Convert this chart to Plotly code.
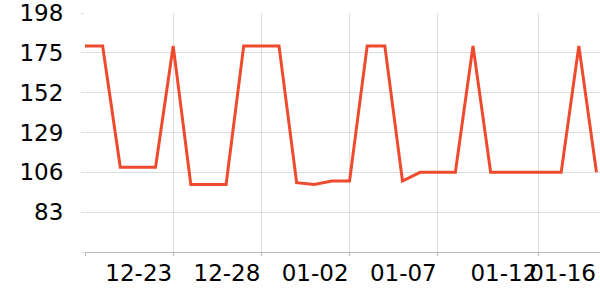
import plotly.graph_objects as go
import pandas as pd

dates = pd.date_range("2023-12-18", periods=30, freq="D").strftime("%Y-%m-%d").tolist()
values = [179, 179, 109, 109, 109, 179, 99, 99, 99, 179,
          179, 179, 100, 99, 101, 101, 179, 179, 101, 106,
          106, 106, 179, 106, 106, 106, 106, 106, 179, 106]

y_ticks = [60, 83, 106, 129, 152, 175, 198]
y_labels = ["", "83", "106", "129", "152", "175", "198"]

x_ticks = ["2023-12-18", "2023-12-23", "2023-12-28", "2024-01-02", "2024-01-07", "2024-01-12 16:48"]
x_labels = ["", "12-23", "12-28", "01-02", "01-07", "01-12"]
x_end_tick = ["2024-01-16"]
x_end_label = ["01-16"]

x_range = ["2023-12-18", "2024-01-16 04:48"]

font = dict(family="DejaVu Sans", size=23, color="#000000")

fig = go.Figure()
fig.add_trace(go.Scatter(x=dates, y=values, mode="lines",
                         line=dict(color="#EE4B2E", width=3), showlegend=False,
                         hoverinfo="skip"))
fig.add_trace(go.Scatter(x=[dates[0]], y=[values[0]], xaxis="x2", mode="lines",
                         line=dict(width=0), showlegend=False, hoverinfo="skip", opacity=0))

fig.update_layout(
    width=600, height=300,
    margin=dict(l=85, r=0, t=10, b=48),
    paper_bgcolor="white", plot_bgcolor="white",
    font=font,
    xaxis=dict(type="date", range=x_range, tickvals=x_ticks, ticktext=x_labels,
               showgrid=True, gridcolor="#dddddd", gridwidth=1,
               showline=True, linecolor="#bbbbbb", linewidth=1,
               ticks="outside", ticklen=3, tickcolor="#bbbbbb",
               ticklabelposition="outside left", ticklabeloverflow="allow",
               tickfont=font, zeroline=False),
    xaxis2=dict(type="date", overlaying="x", matches="x", side="bottom",
                tickvals=x_end_tick, ticktext=x_end_label, showgrid=False,
                showline=False, ticks="outside", ticklen=3, tickcolor="rgba(0,0,0,0)",
                ticklabelposition="outside left", ticklabeloverflow="allow",
                tickfont=font, zeroline=False),
    yaxis=dict(range=[60, 198], tickvals=y_ticks, ticktext=y_labels,
               showgrid=True, gridcolor="#dddddd", gridwidth=1,
               showline=False, zeroline=False,
               ticks="outside", ticklen=3, tickcolor="#dddddd",
               ticklabelstandoff=13, ticklabeloverflow="allow", tickfont=font),
)

fig.write_html("out.html")
